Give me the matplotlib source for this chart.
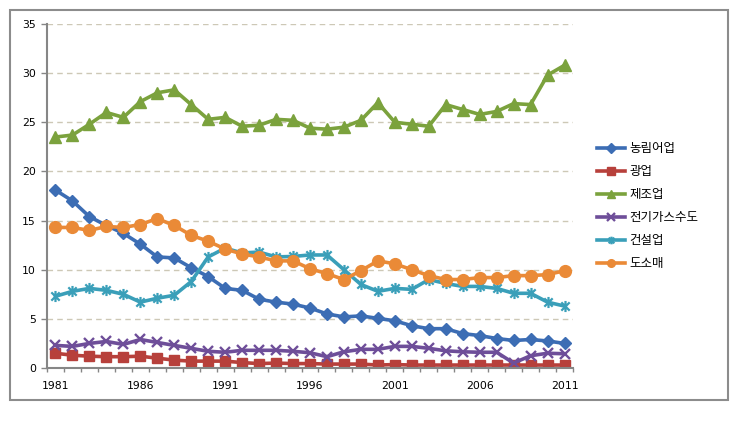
import matplotlib
matplotlib.use("Agg")
import matplotlib.pyplot as plt
from matplotlib.path import Path
from matplotlib.patches import Rectangle
from matplotlib.ticker import FixedLocator

years = list(range(1981, 2012))

agri = [18.1, 17.0, 15.4, 14.5, 13.7, 12.6, 11.3, 11.2, 10.2, 9.3, 8.1, 7.9, 7.0, 6.7, 6.5,
        6.1, 5.5, 5.2, 5.3, 5.05, 4.8, 4.3, 4.0, 4.0, 3.5, 3.3, 3.0, 2.8, 2.9, 2.75, 2.5]
mining = [1.5, 1.3, 1.2, 1.15, 1.15, 1.2, 1.0, 0.8, 0.7, 0.7, 0.7, 0.55, 0.45, 0.5, 0.45,
          0.45, 0.4, 0.4, 0.4, 0.3, 0.35, 0.3, 0.3, 0.3, 0.3, 0.3, 0.3, 0.3, 0.3, 0.3, 0.3]
manuf = [23.5, 23.7, 24.8, 26.0, 25.5, 27.1, 28.0, 28.3, 26.8, 25.3, 25.5, 24.6, 24.7, 25.3, 25.2,
         24.4, 24.3, 24.5, 25.2, 27.0, 25.0, 24.8, 24.6, 26.8, 26.3, 25.8, 26.1, 26.9, 26.8, 29.8, 30.8]
utility = [2.3, 2.2, 2.5, 2.7, 2.4, 2.9, 2.6, 2.3, 2.0, 1.7, 1.6, 1.8, 1.8, 1.8, 1.7,
           1.55, 1.15, 1.65, 1.9, 1.9, 2.2, 2.2, 2.0, 1.75, 1.65, 1.6, 1.6, 0.5, 1.25, 1.5, 1.45]
constr = [7.3, 7.8, 8.1, 7.9, 7.5, 6.7, 7.1, 7.4, 8.8, 11.3, 12.2, 11.7, 11.8, 11.3, 11.35,
          11.5, 11.5, 10.0, 8.5, 7.8, 8.1, 8.0, 9.0, 8.6, 8.3, 8.3, 8.1, 7.6, 7.6, 6.7, 6.3]
retail = [14.3, 14.3, 14.0, 14.4, 14.3, 14.6, 15.2, 14.5, 13.5, 12.9, 12.1, 11.6, 11.3, 10.9, 10.9,
          10.1, 9.6, 9.0, 9.9, 10.9, 10.6, 10.0, 9.4, 9.0, 9.0, 9.2, 9.2, 9.4, 9.4, 9.5, 9.9]

labels = ["농림어업", "광업", "제조업", "전기가스수도", "건설업", "도소매"]
yticks = [0, 5, 10, 15, 20, 25, 30, 35]
xticks = [1981, 1986, 1991, 1996, 2001, 2006, 2011]

star = Path([(0, -1), (0, 1), (-0.75, -0.75), (0.75, 0.75), (-0.75, 0.75), (0.75, -0.75)],
            [Path.MOVETO, Path.LINETO, Path.MOVETO, Path.LINETO, Path.MOVETO, Path.LINETO])

series = [
    (agri, "#3c6db4", "D", 6.5, 1.0),
    (mining, "#b7403b", "s", 7.5, 1.0),
    (manuf, "#7ba23d", "^", 8.5, 1.0),
    (utility, "#6e4e99", "x", 7.5, 1.7),
    (constr, "#3a9fb9", star, 8.0, 1.6),
    (retail, "#ea8a37", "o", 8.5, 1.0),
]

fig = plt.figure(figsize=(7.45, 4.23), dpi=100)
ax = fig.add_axes([47 / 745, 1 - 368 / 423, (573 - 47) / 745, (368 - 24) / 423])

for (vals, col, mk, ms, mew), lab in zip(series, labels):
    ax.plot(years, vals, color=col, lw=2.6, marker=mk, markersize=ms,
            markerfacecolor=col, markeredgecolor=col, markeredgewidth=mew, label=lab,
            solid_joinstyle="round")

ax.set_xlim(1980.5, 2011.5)
ax.set_ylim(0, 35)
ax.set_yticks(yticks)
ax.set_xticks(xticks)
ax.xaxis.set_minor_locator(FixedLocator([y + 0.5 for y in range(1980, 2012)]))
ax.tick_params(axis="x", which="major", length=0, pad=9, labelsize=7.8)
ax.tick_params(axis="x", which="minor", length=3, width=1, color="#868686", direction="out")
ax.tick_params(axis="y", length=4, width=1, color="#868686", pad=4, labelsize=7.8)

for y in yticks[1:]:
    ax.axhline(y, color="#cdc8b6", lw=1.0, ls=(0, (4, 3)), zorder=0)

for s in ["top", "right"]:
    ax.spines[s].set_visible(False)
for s in ["left", "bottom"]:
    ax.spines[s].set_color("#868686")
    ax.spines[s].set_linewidth(1.5)

leg = fig.legend(loc="upper left", bbox_to_anchor=(597 / 745, 1 - 142 / 423),
                 frameon=False, borderpad=0, borderaxespad=0, handlelength=2.2,
                 handletextpad=0.4, labelspacing=0.8,
                 prop={"family": ["Noto Sans CJK KR", "DejaVu Sans"], "size": 9})
for h in leg.legend_handles:
    h.set_markersize(5.5)

fig.patches.append(Rectangle((10 / 745, 1 - 400 / 423), 718 / 745, 390 / 423,
                             transform=fig.transFigure, fill=False,
                             edgecolor="#8c8c8c", lw=1.5))

fig.savefig("out.png", dpi=100)
